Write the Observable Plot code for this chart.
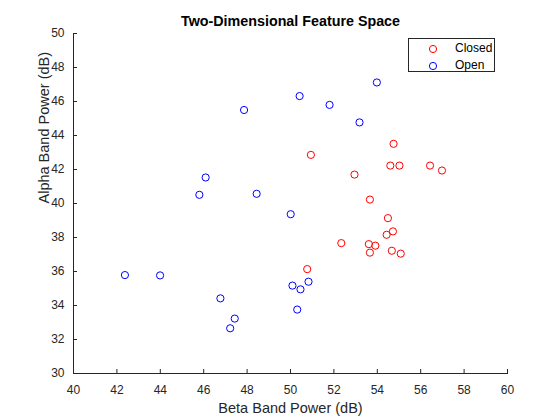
<!DOCTYPE html>
<html><head><meta charset="utf-8">
<script src="https://cdn.jsdelivr.net/npm/d3@7"></script>
<script src="https://cdn.jsdelivr.net/npm/@observablehq/plot@0.6"></script>
<style>
body{margin:0;background:#fff;font-family:"Liberation Sans",Arial,Helvetica,sans-serif;}
#wrap{position:relative;width:560px;height:420px;}
#legend{position:absolute;left:408px;top:38px;width:87px;height:34px;border:1px solid #262626;background:#fff;font-size:12px;color:#000;box-sizing:border-box;}
#legend .row{position:absolute;left:0;height:17px;line-height:17px;}
#legend svg{position:absolute;left:19px;top:4px;}
#legend span{position:absolute;left:46px;top:0;white-space:nowrap;}
</style></head><body><div id="wrap"></div>
<script>
const seriesNames = ["Closed", "Open"];
const seriesColors = ["#ff0000", "#0000ff"];
const closedBeta  = [50.94, 54.75, 54.60, 55.02, 56.43, 56.98, 52.95, 53.66, 54.49, 54.72, 54.43, 52.34, 53.61, 53.91, 53.66, 54.67, 55.08, 50.77];
const closedAlpha = [42.86, 43.51, 42.23, 42.23, 42.23, 41.94, 41.70, 40.23, 39.14, 38.36, 38.16, 37.67, 37.61, 37.52, 37.11, 37.22, 37.05, 36.14];
const openBeta    = [46.09, 45.80, 48.44, 50.01, 42.37, 43.99, 46.77, 47.43, 47.22, 50.09, 50.46, 50.83, 50.31, 47.86, 50.42, 51.80, 53.98, 53.18];
const openAlpha   = [41.53, 40.51, 40.57, 39.37, 35.79, 35.77, 34.42, 33.23, 32.66, 35.17, 34.95, 35.40, 33.76, 45.50, 46.32, 45.80, 47.12, 44.77];
const xTicks = [40, 42, 44, 46, 48, 50, 52, 54, 56, 58, 60];
const yTicks = [30, 32, 34, 36, 38, 40, 42, 44, 46, 48, 50];
const titleText = "Two-Dimensional Feature Space";
const xLabel = "Beta Band Power (dB)";
const yLabel = "Alpha Band Power (dB)";

const points = [
  ...closedBeta.map((b, i) => ({beta: b, alpha: closedAlpha[i], state: "Closed"})),
  ...openBeta.map((b, i) => ({beta: b, alpha: openAlpha[i], state: "Open"}))
];

const W = 560, H = 420, mL = 73, mR = 53, mT = 33, mB = 47;
const plotW = W - mL - mR, plotH = H - mT - mB;
const axisColor = "#262626";

const chart = Plot.plot({
  width: W, height: H,
  marginLeft: mL, marginRight: mR, marginTop: mT, marginBottom: mB,
  style: {fontFamily: "'Liberation Sans', Arial, Helvetica, sans-serif", background: "#fff", color: axisColor, overflow: "visible"},
  x: {domain: [40, 60]},
  y: {domain: [30, 50]},
  color: {domain: seriesNames, range: seriesColors},
  marks: [
    Plot.axisX(xTicks, {tickSize: 0, tickPadding: 12, fontSize: 12, label: null, fill: axisColor}),
    Plot.axisY(yTicks, {tickSize: 0, tickPadding: 9, fontSize: 12, label: null, fill: axisColor}),
    Plot.tickX(xTicks, {x: d => d, stroke: axisColor, insetTop: plotH - 4}),
    Plot.tickY(yTicks, {y: d => d, stroke: axisColor, insetRight: plotW - 4}),
    Plot.frame({anchor: "bottom", stroke: axisColor}),
    Plot.frame({anchor: "left", stroke: axisColor}),
    Plot.dot(points, {x: "beta", y: "alpha", stroke: "state", r: 3.6, strokeWidth: 1}),
    Plot.text([titleText], {frameAnchor: "top", dy: -12, lineAnchor: "middle", fontWeight: "bold", fontSize: 14.3, fill: "#000"}),
    Plot.text([xLabel], {frameAnchor: "bottom", dy: 35, lineAnchor: "middle", fontSize: 14.5, fill: axisColor}),
    Plot.text([yLabel], {frameAnchor: "left", dx: -29, rotate: -90, lineAnchor: "middle", fontSize: 14.5, fill: axisColor})
  ]
});
const wrap = document.getElementById("wrap");
wrap.appendChild(chart);

const legend = document.createElement("div");
legend.id = "legend";
seriesNames.forEach((name, i) => {
  const row = document.createElement("div");
  row.className = "row";
  row.style.top = (1 + i * 17) + "px";
  row.style.width = "100%";
  row.innerHTML = `<svg width="10" height="10"><circle cx="5" cy="5" r="3.6" fill="none" stroke="${seriesColors[i]}" stroke-width="1"/></svg><span>${name}</span>`;
  legend.appendChild(row);
});
wrap.appendChild(legend);
</script>
</body></html>
